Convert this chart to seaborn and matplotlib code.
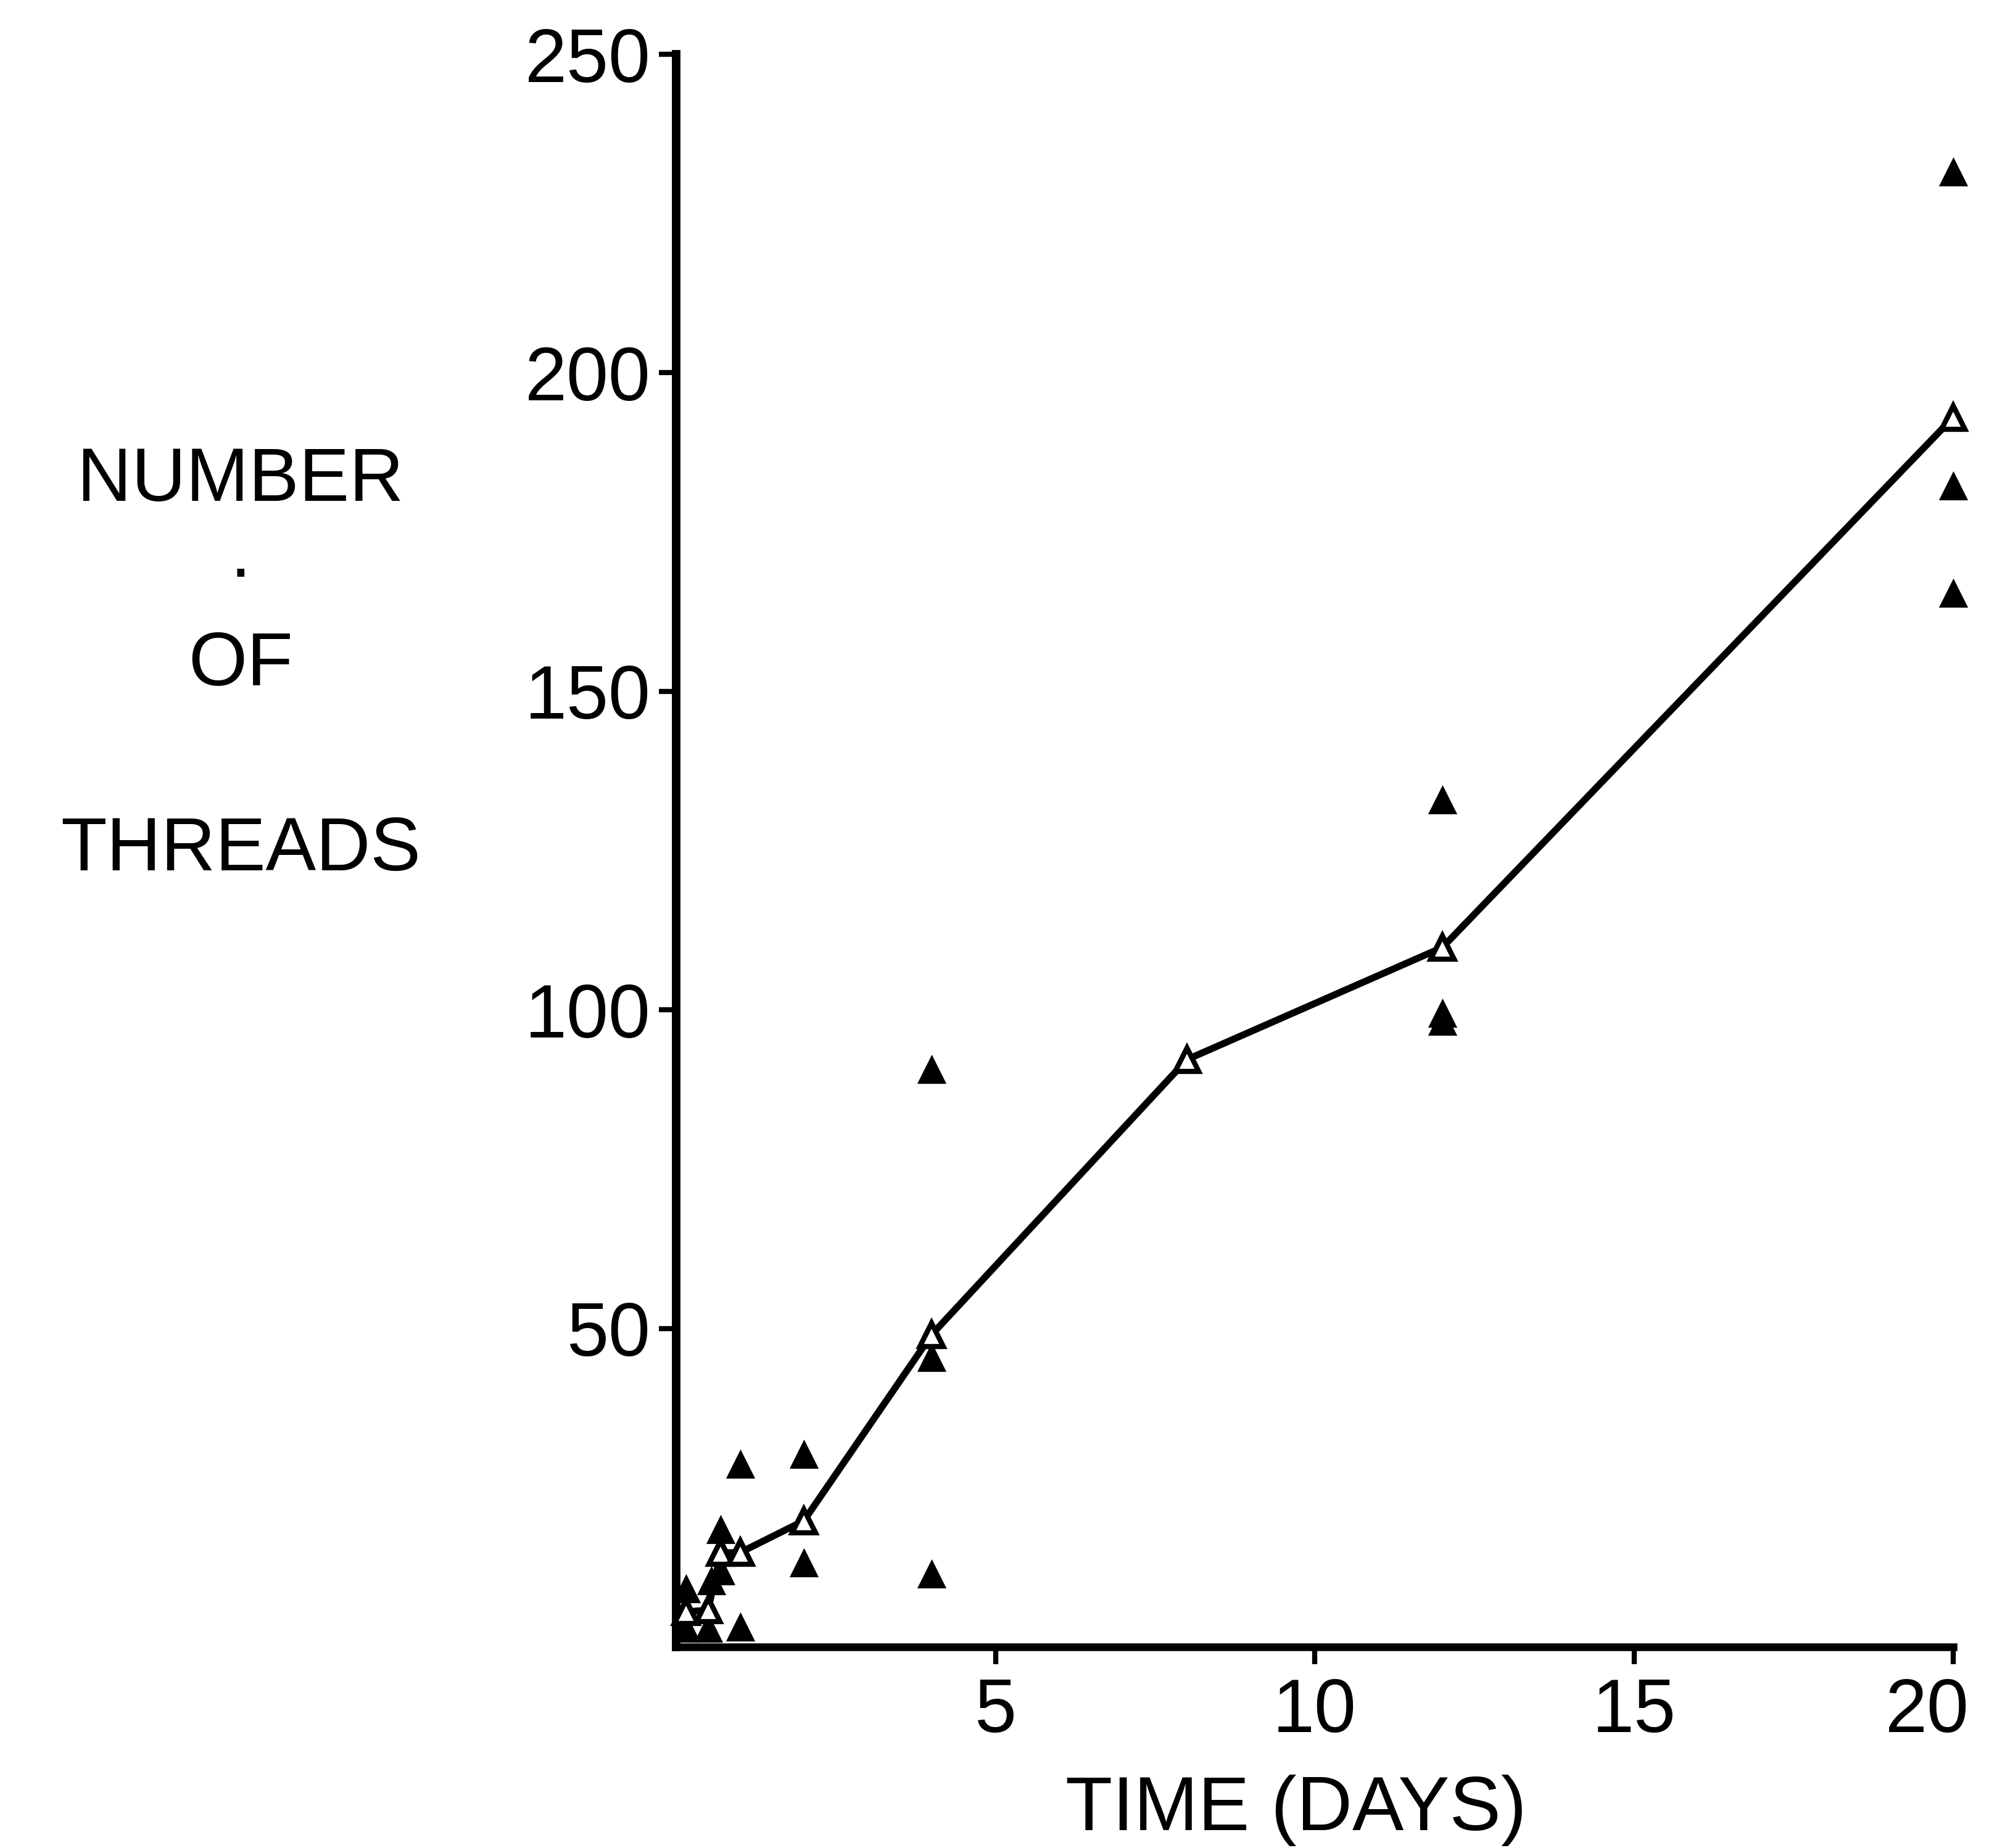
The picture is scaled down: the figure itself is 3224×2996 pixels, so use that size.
import matplotlib
matplotlib.use("Agg")
import matplotlib.pyplot as plt
import matplotlib.transforms as mtransforms
import seaborn as sns

# ---- data ----
mean_days = [0.15, 0.5, 0.7, 1.0, 2.0, 4.0, 8.0, 12.0, 20.0]
mean_threads = [5.5, 5.8, 14.8, 14.8, 19.8, 49.0, 92.2, 109.8, 193.0]

sample_days = [0.15, 0.15, 0.5, 0.55, 0.7, 0.7, 1.0, 1.0, 2.0, 2.0,
               4.0, 4.0, 4.0, 12.0, 12.0, 12.0, 20.0, 20.0, 20.0]
sample_threads = [9.2, 3.0, 3.0, 10.5, 12.0, 18.5, 28.8, 3.2, 30.3, 13.3,
                  90.7, 45.5, 11.5, 133.0, 98.3, 99.5, 231.6, 182.3, 165.5]

x_ticks = [5, 10, 15, 20]
y_ticks = [50, 100, 150, 200, 250]
x_label = "TIME (DAYS)"
y_label = "NUMBER\n\u00b7\nOF\n\nTHREADS"

# ---- style ----
sns.set_style("ticks")
plt.rcParams['font.family'] = ['Liberation Sans', 'DejaVu Sans']

W, H = 3224, 2996
fig = plt.figure(figsize=(W / 100, H / 100), dpi=100)
left, right, top, bottom = 1096, 3166, 88, 2670
ax = fig.add_axes([left / W, (H - bottom) / H, (right - left) / W, (bottom - top) / H])

sns.scatterplot(x=sample_days, y=sample_threads, ax=ax, marker='^', s=1156,
                color='black', edgecolor='black', linewidth=0, legend=False,
                clip_on=False, zorder=3)
sns.lineplot(x=mean_days, y=mean_threads, ax=ax, estimator=None, color='black',
             linewidth=8, marker='^', markersize=27, markerfacecolor='white',
             markeredgecolor='black', markeredgewidth=6, clip_on=False, zorder=4)

ax.set_xlim(0, 20)
ax.set_ylim(0, 250)
ax.set_xticks(x_ticks)
ax.set_yticks(y_ticks)
ax.set_xticklabels([str(t) for t in x_ticks])
ax.set_yticklabels([str(t) for t in y_ticks])

for side in ('top', 'right'):
    ax.spines[side].set_visible(False)
for side, lw in (('left', 10), ('bottom', 9)):
    ax.spines[side].set_linewidth(lw)
    ax.spines[side].set_color('black')
    ax.spines[side].set_capstyle('projecting')

ax.tick_params(axis='both', direction='out', length=20, width=6, color='black',
               labelsize=88, labelcolor='black')
ax.tick_params(axis='y', pad=10)
ax.tick_params(axis='x', pad=15)

# the last x tick label sits a little left of its tick in the reference
last = ax.get_xticklabels()[-1]
last.set_transform(last.get_transform() +
                   mtransforms.ScaledTranslation(-0.42, 0, fig.dpi_scale_trans))

ax.set_xlabel(x_label, fontsize=90, color='black')
ax.xaxis.set_label_coords(0.4855, -0.080)

ax.set_ylabel(y_label, fontsize=88, color='black', rotation=0,
              linespacing=1.4, multialignment='center')
ax.yaxis.label.set_horizontalalignment('center')
ax.yaxis.label.set_verticalalignment('center')
ax.yaxis.set_label_coords(-0.341, 0.616)

ax.set_facecolor('white')
fig.patch.set_facecolor('white')
fig.savefig("out.png", dpi=100, facecolor='white')
